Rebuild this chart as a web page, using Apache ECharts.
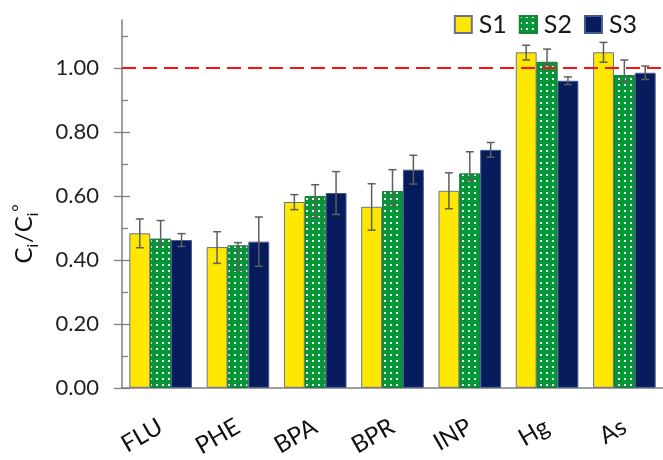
<!DOCTYPE html>
<html>
<head>
<meta charset="utf-8">
<script src="https://cdn.jsdelivr.net/npm/echarts@6/dist/echarts.min.js"></script>
<style>html,body{margin:0;padding:0;background:#fff}#c{width:663px;height:460px}</style>
</head>
<body>
<div id="c"></div>
<script>
// ---- data ----
var categories = ['FLU', 'PHE', 'BPA', 'BPR', 'INP', 'Hg', 'As'];
var seriesNames = ['S1', 'S2', 'S3'];
var s1 = [0.483, 0.440, 0.581, 0.566, 0.616, 1.049, 1.049];
var s2 = [0.466, 0.445, 0.599, 0.615, 0.670, 1.019, 0.978];
var s3 = [0.462, 0.457, 0.609, 0.682, 0.744, 0.960, 0.985];
var s1ErrUp   = [0.045, 0.048, 0.023, 0.072, 0.056, 0.022, 0.031];
var s1ErrDown = [0.045, 0.051, 0.024, 0.073, 0.056, 0.024, 0.031];
var s2ErrUp   = [0.057, 0.009, 0.036, 0.067, 0.068, 0.040, 0.047];
var s2ErrDown = [0.020, 0.078, 0.067, 0.042, 0.022, 0.010, 0.020];
var s3ErrUp   = [0.020, 0.077, 0.067, 0.045, 0.023, 0.012, 0.021];
var s3ErrDown = [0.020, 0.077, 0.067, 0.045, 0.023, 0.012, 0.021];
var minorTickValues = [0.1, 0.3, 0.5, 0.7, 0.9, 1.1];
var majorTickValues = [0, 0.2, 0.4, 0.6, 0.8, 1.0];
var referenceLevel = 1.0;
var yMax = 1.15;

var values = [s1, s2, s3];
var errUp = [s1ErrUp, s2ErrUp, s3ErrUp];
var errDown = [s1ErrDown, s2ErrDown, s3ErrDown];
var colors = ['#FFE800', '#06963A', '#061C5C'];
var borders = ['#6F7090', '#1C7F3A', '#4A5A8C'];
var FONT = 'Lato';
var BAR_GROUP = 0.81;

var chart = echarts.init(document.getElementById('c'), null, {renderer: 'canvas'});

var series = [];
values.forEach(function (vals, s) {
  var st = {color: colors[s], borderColor: borders[s], borderWidth: 1};
  if (s === 1) {
    st.decal = {
      symbol: 'rect', symbolSize: 1, color: 'rgba(255,255,255,0.9)',
      dashArrayX: [1.5, 3.8], dashArrayY: [1.5, 4], rotation: 0
    };
  }
  var ser = {
    name: seriesNames[s], type: 'bar', data: vals,
    barGap: '0%', barCategoryGap: '19%',
    itemStyle: st, z: 2
  };
  if (s === 0) {
    ser.markLine = {
      silent: true, symbol: 'none', label: {show: false},
      lineStyle: {color: '#FF1010', type: [14, 7], width: 2},
      data: [{yAxis: referenceLevel}], z: 5
    };
  }
  series.push(ser);
});

values.forEach(function (vals, s) {
  series.push({
    type: 'custom', silent: true, z: 4,
    data: vals.map(function (v, i) { return [i, v, errDown[s][i], errUp[s][i]]; }),
    renderItem: function (params, api) {
      var i = api.value(0), v = api.value(1);
      var c = api.coord([i, v]);
      var band = api.size([1, 0])[0];
      var bw = band * BAR_GROUP / 3;
      var x = c[0] + (s - 1) * bw;
      var yHi = api.coord([i, v + api.value(3)])[1];
      var yLo = api.coord([i, v - api.value(2)])[1];
      var hw = 4;
      var style = {stroke: '#5E5E5E', lineWidth: 1.5, fill: null};
      return {type: 'group', children: [
        {type: 'line', shape: {x1: x, y1: yHi, x2: x, y2: yLo}, style: style},
        {type: 'line', shape: {x1: x - hw, y1: yHi, x2: x + hw, y2: yHi}, style: style},
        {type: 'line', shape: {x1: x - hw, y1: yLo, x2: x + hw, y2: yLo}, style: style}
      ]};
    }
  });
});

var tickLine = {color: '#7F7F7F', width: 1.3};
var option = {
  animation: false,
  textStyle: {fontFamily: FONT},
  grid: {left: 122, top: 20, width: 546, bottom: 69, containLabel: false},
  legend: {
    data: seriesNames, right: 26, top: 12, padding: 0, icon: 'rect',
    itemWidth: 17, itemHeight: 17, itemGap: 12,
    textStyle: {fontFamily: FONT, fontSize: 25, color: '#1a1a1a', padding: [0, 0, 0, 2]}
  },
  xAxis: {
    type: 'category', data: categories,
    axisLine: {lineStyle: {color: '#7F7F7F', width: 1.5}},
    axisTick: {show: false},
    axisLabel: {rotate: 30, margin: 37, fontFamily: FONT, fontSize: 24, color: '#111'}
  },
  yAxis: [{
    type: 'value', min: 0, max: yMax,
    axisLine: {show: true, lineStyle: {color: '#7F7F7F', width: 1.5}},
    axisTick: {show: true, inside: true, length: 6, customValues: minorTickValues, lineStyle: tickLine},
    axisLabel: {customValues: majorTickValues, margin: 23, fontFamily: FONT, fontSize: 22, color: '#222',
      formatter: function (v) { return v.toFixed(2); }},
    splitLine: {show: false},
    name: '{c|C}{i|i}{c|/C}{i|i}{d|°}',
    nameLocation: 'middle', nameRotate: 90, nameGap: 86,
    nameTextStyle: {
      padding: [0, 60, 0, 0],
      rich: {
        c: {fontFamily: FONT, fontSize: 24, lineHeight: 24, color: '#111', verticalAlign: 'top'},
        i: {fontFamily: FONT, fontSize: 15, lineHeight: 15, color: '#111', verticalAlign: 'top', padding: [14, 1, 0, 0]},
        d: {fontFamily: FONT, fontSize: 18, lineHeight: 18, color: '#111', verticalAlign: 'top', padding: [-2, 0, 0, 0]}
      }
    }
  }, {
    type: 'value', min: 0, max: yMax, position: 'left',
    axisLine: {show: false},
    axisTick: {show: true, inside: false, length: 8, customValues: majorTickValues, lineStyle: tickLine},
    axisLabel: {show: false},
    splitLine: {show: false}
  }, {
    type: 'value', min: 0, max: yMax, position: 'left',
    axisLine: {show: false},
    axisTick: {show: true, inside: true, length: 8, customValues: majorTickValues, lineStyle: tickLine},
    axisLabel: {show: false},
    splitLine: {show: false}
  }],
  series: series
};
chart.setOption(option);
</script>
</body>
</html>
